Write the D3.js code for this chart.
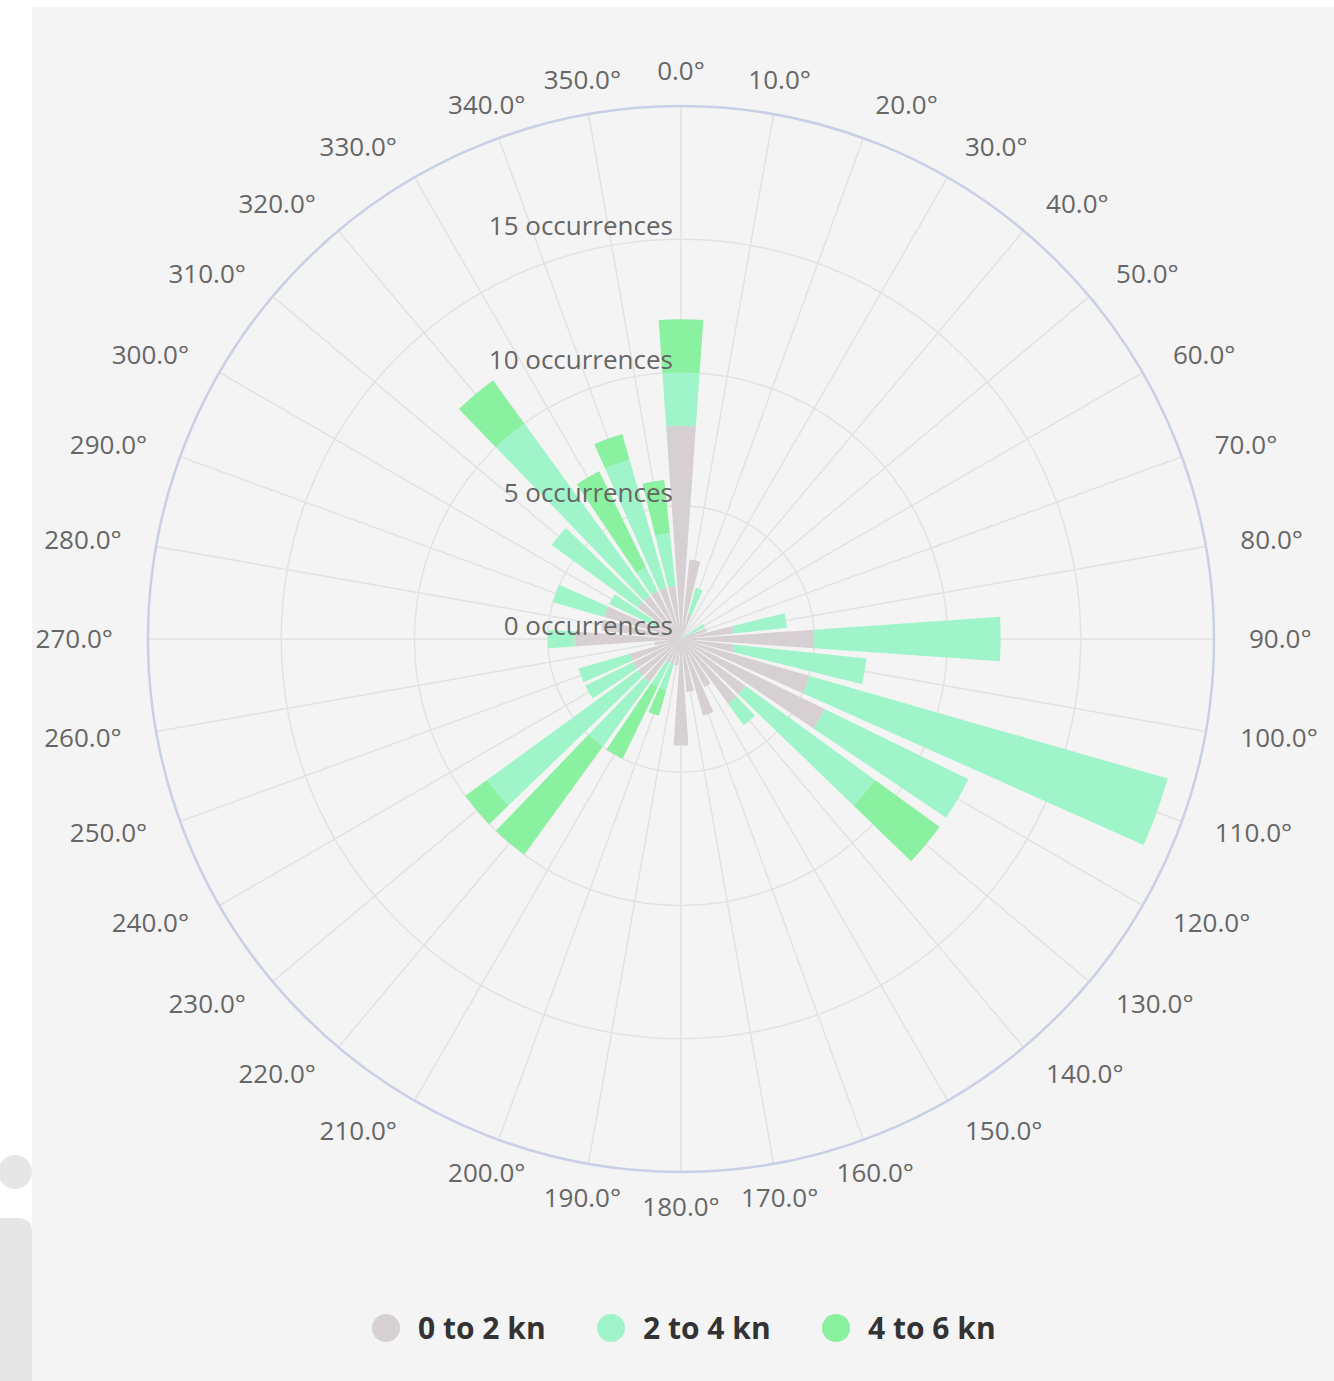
<!DOCTYPE html>
<html>
<head>
<meta charset="utf-8">
<script src="https://cdn.jsdelivr.net/npm/d3@7"></script>
<style>
  body { margin: 0; background: #fff; }
  svg { display: block; font-family: "Open Sans", sans-serif; }
</style>
</head>
<body>
<svg id="chart" width="1334" height="1381"></svg>
<script>
// wind directions (degrees) used as categories
const directions = [0, 10, 20, 30, 40, 50, 60, 70, 80, 90, 100, 110, 120, 130, 140, 150, 160, 170,
                    180, 190, 200, 210, 220, 230, 240, 250, 260, 270, 280, 290, 300, 310, 320, 330, 340, 350];
const speedBands = ["0 to 2 kn", "2 to 4 kn", "4 to 6 kn"];

// occurrences per direction, one array per speed band
const band0to2 = [8, 3, 1, 0, 0, 0, 0, 1, 2, 5, 2, 5, 6, 3, 3, 2, 3, 2,
                  4, 1, 1, 1, 2, 2, 2, 2, 1, 4, 3, 3, 1, 2, 2, 2, 2, 2];
const band2to4 = [2, 0, 1, 0, 0, 0, 1, 0, 2, 7, 5, 14, 6, 6, 1, 0, 0, 0,
                  0, 0, 1, 1, 3, 7, 2, 2, 0, 1, 0, 2, 2, 4, 8, 1, 5, 2];
const band4to6 = [2, 0, 0, 0, 0, 0, 0, 0, 0, 0, 0, 0, 0, 3, 0, 0, 0, 0,
                  0, 0, 1, 3, 5, 1, 0, 0, 0, 0, 0, 0, 0, 0, 2, 4, 1, 2];

const radialTicks = [0, 5, 10, 15];
const radialMax = 20;
const colors = ["#d7d0d2", "#9ff5c9", "#89f1a0"];

const cx = 681, cy = 639, outerR = 533;
const toRad = Math.PI / 180;

const svg = d3.select("#chart");

// panel background
svg.append("rect")
  .attr("x", 32).attr("y", 7)
  .attr("width", 1302).attr("height", 1374)
  .attr("fill", "#f4f4f4");

// bit of another widget peeking in at the left edge
svg.append("circle").attr("cx", 15).attr("cy", 1172).attr("r", 17).attr("fill", "#e6e6e6");
svg.append("path")
  .attr("d", "M0,1381 V1218 H18 Q32,1218 32,1232 V1381 Z")
  .attr("fill", "#e6e6e6");

const g = svg.append("g").attr("transform", `translate(${cx},${cy})`);

const r = d3.scaleLinear().domain([0, radialMax]).range([0, outerR]);

const angle = d3.scaleBand()
  .domain(directions)
  .range([-5 * toRad, 355 * toRad])
  .paddingInner(0.2)
  .paddingOuter(0.1);

const mid = d => angle(d) + angle.bandwidth() / 2;

// grid circles
g.selectAll(".ring").data(radialTicks.filter(t => t > 0))
  .enter().append("circle")
    .attr("r", d => r(d))
    .attr("fill", "none")
    .attr("stroke", "#e2e2e2")
    .attr("stroke-width", 1.5);

// spokes
g.selectAll(".spoke").data(directions)
  .enter().append("line")
    .attr("x1", 0).attr("y1", 0)
    .attr("x2", d => Math.sin(mid(d)) * outerR)
    .attr("y2", d => -Math.cos(mid(d)) * outerR)
    .attr("stroke", "#e2e2e2")
    .attr("stroke-width", 1.5);

// outer border
g.append("circle")
  .attr("r", outerR)
  .attr("fill", "none")
  .attr("stroke", "#c9d0e6")
  .attr("stroke-width", 2.5);

// stacked bars
const rows = directions.map((d, i) => ({
  dir: d,
  [speedBands[0]]: band0to2[i],
  [speedBands[1]]: band2to4[i],
  [speedBands[2]]: band4to6[i]
}));
const stacked = d3.stack().keys(speedBands)(rows);

const arc = d3.arc()
  .innerRadius(d => r(d[0]))
  .outerRadius(d => r(d[1]))
  .startAngle(d => angle(d.data.dir))
  .endAngle(d => angle(d.data.dir) + angle.bandwidth());

g.selectAll(".series").data(stacked)
  .enter().append("g")
    .attr("fill", (d, i) => colors[i])
  .selectAll("path").data(d => d.filter(p => p[1] > p[0]))
  .enter().append("path")
    .attr("d", arc);

// direction labels
const labelR = 568;
g.selectAll(".dirLabel").data(directions)
  .enter().append("text")
    .attr("x", d => Math.sin(d * toRad) * labelR)
    .attr("y", d => -Math.cos(d * toRad) * labelR)
    .attr("dy", "0.35em")
    .attr("text-anchor", d => (d >= 20 && d < 160) ? "start" : (d > 200 && d < 340) ? "end" : "middle")
    .attr("fill", "#666")
    .style("font-size", "26px")
    .text(d => d.toFixed(1) + "°");

// radial axis labels
g.selectAll(".radLabel").data(radialTicks)
  .enter().append("text")
    .attr("x", -8)
    .attr("y", d => -r(d) - 13)
    .attr("dy", "0.35em")
    .attr("text-anchor", "end")
    .attr("fill", "#666")
    .style("font-size", "26px")
    .text(d => d + " occurrences");

// legend
const legend = svg.append("g").attr("transform", "translate(386,1328)");
const item = legend.selectAll(".item").data(speedBands)
  .enter().append("g")
    .attr("transform", (d, i) => `translate(${i * 225},0)`);
item.append("circle").attr("r", 14).attr("fill", (d, i) => colors[i]);
item.append("text")
  .attr("x", 32)
  .attr("dy", "0.35em")
  .attr("fill", "#333")
  .style("font-size", "30px")
  .style("font-weight", "bold")
  .text(d => d);
</script>
</body>
</html>
